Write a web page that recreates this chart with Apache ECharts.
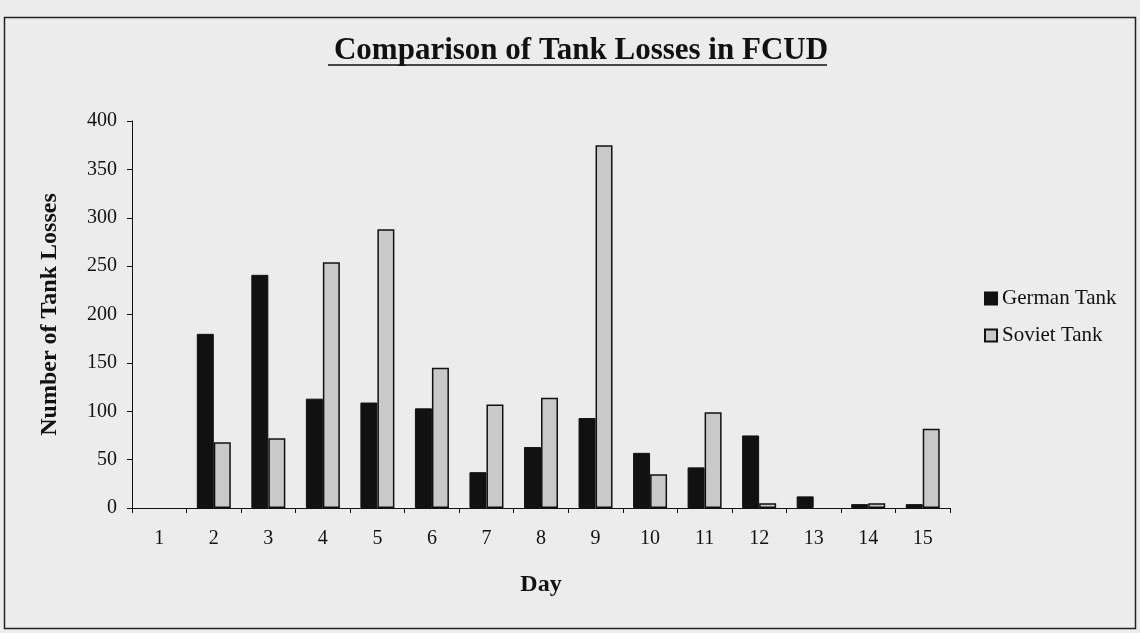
<!DOCTYPE html>
<html>
<head>
<meta charset="utf-8">
<script src="https://cdn.jsdelivr.net/npm/echarts@6/dist/echarts.min.js"></script>
<style>
  html, body { margin: 0; padding: 0; background: #ececec; }
  #chart { width: 1140px; height: 633px; }
</style>
</head>
<body>
<div id="chart"></div>
<script>
// 数据
const days = ['1', '2', '3', '4', '5', '6', '7', '8', '9', '10', '11', '12', '13', '14', '15']
const germanTank = [0, 180, 241, 113, 109, 103, 37, 63, 93, 57, 42, 75, 12, 4, 4]
const sovietTank = [0, 68, 72, 254, 288, 145, 107, 114, 375, 35, 99, 5, 0, 5, 82]

const serif = 'Liberation Serif'

// 值为0的柱子不画边框
function toBarData (values) {
  return values.map(function (v) {
    return v === 0 ? { value: v, itemStyle: { borderWidth: 0 } } : v
  })
}

const chart = echarts.init(document.getElementById('chart'))

const option = {
  backgroundColor: '#ececec',
  animation: false,
  textStyle: { fontFamily: serif, color: '#111' },
  title: {
    text: 'Comparison of Tank Losses in FCUD',
    left: 576,
    top: 30,
    textAlign: 'center',
    textStyle: { fontFamily: serif, fontSize: 31, fontWeight: 'bold', color: '#111' }
  },
  legend: {
    orient: 'vertical',
    left: 979,
    top: 283,
    itemWidth: 12,
    itemHeight: 12,
    itemGap: 16,
    icon: 'rect',
    textStyle: { fontFamily: serif, fontSize: 21, color: '#111' },
    data: ['German Tank', 'Soviet Tank']
  },
  grid: { left: 132, right: 190, top: 121, bottom: 125 },
  xAxis: {
    type: 'category',
    data: days,
    name: 'Day',
    nameLocation: 'middle',
    nameGap: 65,
    nameTextStyle: { fontFamily: serif, fontSize: 24, fontWeight: 'bold', color: '#111' },
    axisLine: { lineStyle: { color: '#111', width: 1 } },
    axisTick: { show: true, inside: false, length: 5, alignWithLabel: false, lineStyle: { color: '#111' } },
    axisLabel: { fontFamily: serif, fontSize: 20, color: '#111', margin: 21 },
    splitLine: { show: false }
  },
  yAxis: {
    type: 'value',
    min: 0,
    max: 400,
    interval: 50,
    name: 'Number of Tank Losses',
    nameLocation: 'middle',
    nameGap: 70,
    nameTextStyle: { fontFamily: serif, fontSize: 24, fontWeight: 'bold', color: '#111' },
    axisLine: { show: true, lineStyle: { color: '#111', width: 1 } },
    axisTick: { show: true, length: 5, lineStyle: { color: '#111' } },
    axisLabel: { fontFamily: serif, fontSize: 20, color: '#111', margin: 15 },
    splitLine: { show: false }
  },
  series: [
    {
      name: 'German Tank',
      type: 'bar',
      data: toBarData(germanTank),
      barWidth: 17,
      barGap: '0%',
      itemStyle: { color: '#111111', borderColor: '#111111', borderWidth: 1 }
    },
    {
      name: 'Soviet Tank',
      type: 'bar',
      data: toBarData(sovietTank),
      barWidth: 17,
      itemStyle: { color: '#c9c9c9', borderColor: '#111111', borderWidth: 1.5 }
    }
  ],
  graphic: [
    // 外框
    {
      type: 'rect',
      shape: { x: 4.5, y: 17.5, width: 1131, height: 611 },
      style: { fill: 'none', stroke: '#222', lineWidth: 1.5 },
      silent: true
    },
    // 标题下划线
    {
      type: 'line',
      shape: { x1: 328, y1: 65, x2: 827, y2: 65 },
      style: { stroke: '#111', lineWidth: 1.5 },
      silent: true
    }
  ]
}

chart.setOption(option)
</script>
</body>
</html>
